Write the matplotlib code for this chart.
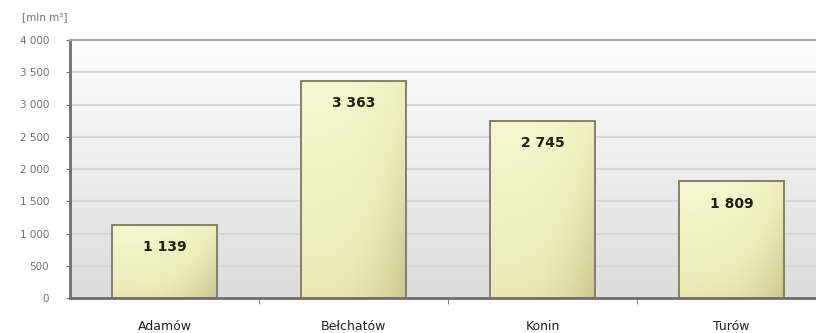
import numpy as np
import matplotlib
matplotlib.use("Agg")
import matplotlib.pyplot as plt
from matplotlib.colors import LinearSegmentedColormap

kopalnie = ["Adamów", "Bełchatów", "Konin", "Turów"]
zasoby = [1139, 3363, 2745, 1809]
yticks = [0, 500, 1000, 1500, 2000, 2500, 3000, 3500, 4000]

def fmt(v):
    return f"{v:,}".replace(",", " ")

fig = plt.figure(figsize=(8.16, 3.33), dpi=100)
W, H = 816, 333
ax = fig.add_axes([70 / W, 1 - 298 / H, (816 - 70) / W, (298 - 40) / H])

xlim = (-0.5, (816 - 70) / 189 - 0.5)

# tło obszaru wykresu - gradient (jasne u góry, szare na dole)
bg = np.linspace(0, 1, 256).reshape(-1, 1)
bg_cmap = LinearSegmentedColormap.from_list("bg", ["#fdfdfd", "#dcdcdc"])
ax.imshow(bg, cmap=bg_cmap, aspect="auto", extent=[xlim[0], xlim[1], 0, 4000],
          zorder=0, origin="upper")

for y in yticks[1:]:
    ax.axhline(y, color="#d6d6d6", lw=1.5, zorder=1)

bars = ax.bar(range(len(kopalnie)), zasoby, width=0.56, facecolor="none",
              edgecolor="#7a7a62", lw=1.3, zorder=3)

# gradient słupków
gx = np.linspace(0, 1, 200)
gy = np.linspace(0, 1, 200)
GX, GY = np.meshgrid(gx, gy)
bar_cmap = LinearSegmentedColormap.from_list(
    "bar", ["#f7f6cf", "#ecebb8", "#c9c58f"])
for b in bars:
    x0, w, h = b.get_x(), b.get_width(), b.get_height()
    val = 0.55 * GY + 0.45 * GX ** 3
    im = ax.imshow(val, cmap=bar_cmap, aspect="auto", vmin=0, vmax=1,
                   extent=[x0, x0 + w, 0, h], origin="upper", zorder=2)
    im.set_clip_path(b)
ax.set_xlim(*xlim)
ax.set_ylim(0, 4000)

for i, v in enumerate(zasoby):
    ax.annotate(fmt(v), (i, v), xytext=(0, -16), textcoords="offset points",
                ha="center", va="center", fontsize=10, fontweight="bold",
                color="#202010", zorder=4)

ax.spines["right"].set_visible(False)
ax.spines["top"].set_color("#a8a8a8")
ax.spines["top"].set_linewidth(1.5)
ax.spines["left"].set_color("#6e6e6e")
ax.spines["left"].set_linewidth(2)
ax.spines["bottom"].set_color("#6e6e6e")
ax.spines["bottom"].set_linewidth(2)

ax.set_yticks(yticks)
ax.set_yticklabels([fmt(v) for v in yticks], fontsize=7.5, color="#707070")
ax.tick_params(axis="y", length=3, color="#6e6e6e", pad=12)

ax.set_xticks(range(len(kopalnie)))
ax.set_xticklabels(kopalnie, fontsize=9, color="#202020")
ax.tick_params(axis="x", length=0, pad=16)
ax.set_xticks([0.5, 1.5, 2.5], minor=True)
ax.tick_params(axis="x", which="minor", length=4, color="#6e6e6e")

fig.text(22 / W, 1 - 17 / H, "[mln m³]", fontsize=7.5, color="#707070",
         ha="left", va="center")

fig.savefig("out.png", dpi=100)
